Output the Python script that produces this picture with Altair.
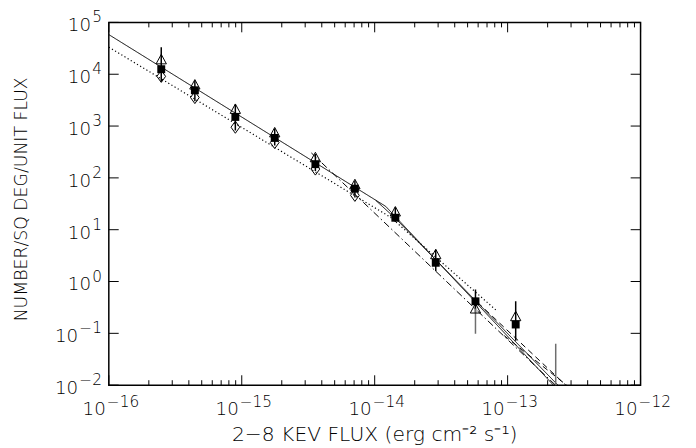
import altair as alt
import pandas as pd

# ---------------- data ----------------
flux = [2.48e-16, 4.44e-16, 8.95e-16, 1.77e-15, 3.58e-15, 7.10e-15,
        1.43e-14, 2.88e-14, 5.73e-14, 1.15e-13]
squares = [1.25e4, 4.9e3, 1.5e3, 590, 184, 62, 17, 2.3, 0.415, 0.148]
triangles = [1.9e4, 6.2e3, 2.1e3, 740, 245, 74, 22, 3.3, 0.295, 0.21]
diamond_flux = [2.48e-16, 4.44e-16, 8.95e-16, 1.77e-15, 3.58e-15, 7.10e-15]
diamonds = [9.1e3, 3.55e3, 950, 480, 148, 46]

# error bars
err_flux = [2.48e-16, 2.48e-16, 4.44e-16, 8.95e-16, 1.77e-15, 3.58e-15,
            7.10e-15, 1.43e-14, 2.88e-14, 5.73e-14, 5.73e-14, 1.15e-13, 2.30e-13]
err_lo = [1.3e4, 7.2e3, 3.0e3, 820, 420, 135, 42, 14, 1.57, 0.25, 0.098, 0.072, 0.005]
err_hi = [3.3e4, 1.2e4, 7.6e3, 2.6e3, 900, 290, 88, 27, 4.1, 0.70, 0.30, 0.417, 0.063]
err_col = ["black", "black", "black", "black", "black", "black",
           "black", "black", "black", "black", "#6e6e6e", "black", "#6e6e6e"]

# model curves
solid_a_x = [1e-16, 1.21e-14, 2.22e-13]
solid_a_y = [5.82e4, 28.2, 0.0099]
solid_b_x = [1.02e-14, 1.43e-14, 2.40e-13]
solid_b_y = [36.7, 16.6, 0.0099]
dotted_x = [1e-16, 1.315e-14, 8.36e-14]
dotted_y = [3.33e4, 17.4, 0.267]
dashdot_x = [3.34e-15, 2.30e-13]
dashdot_y = [303, 0.0099]
dashed1_x = [5.96e-14, 2.75e-13]
dashed1_y = [0.392, 0.0099]
dashed2_x = [9.42e-14, 2.79e-13]
dashed2_y = [0.0904, 0.0099]

x_major = [1e-16, 1e-15, 1e-14, 1e-13, 1e-12]
x_exp = ["−16", "−15", "−14", "−13", "−12"]
y_major_pos = [1e0, 1e1, 1e2, 1e3, 1e4, 1e5]
y_exp_pos = ["0", "1", "2", "3", "4", "5"]
y_major_neg = [1e-2, 1e-1]
y_exp_neg = ["−2", "−1"]
x_minor = [k * 10.0 ** e for e in range(-16, -12) for k in range(2, 10)]

x_title = "2−8 KEV FLUX (erg cm⁻² s⁻¹)"
y_title = "NUMBER/SQ DEG/UNIT FLUX"

# ---------------- chart ----------------
W, H = 538, 367
FONT = "DejaVu Sans"
FW = 300
xs = alt.Scale(type="log", domain=[1e-16, 1e-12], nice=False)
ys = alt.Scale(type="log", domain=[1e-2, 1e5], nice=False)


def X(f):
    return alt.X(f"{f}:Q", scale=xs, axis=None)


def Y(f):
    return alt.Y(f"{f}:Q", scale=ys, axis=None)


def curve(xv, yv, dash, width=1.0):
    df = pd.DataFrame({"f": xv, "n": yv, "o": range(len(xv))})
    m = alt.Chart(df).mark_line(color="black", strokeWidth=width, clip=True,
                                strokeDash=dash)
    return m.encode(x=X("f"), y=Y("n"), order="o:Q")


layers = [
    curve(solid_a_x, solid_a_y, [1, 0]),
    curve(solid_b_x, solid_b_y, [1, 0]),
    curve(dotted_x, dotted_y, [1.2, 2.5], 1.2),
    curve(dashdot_x, dashdot_y, [7, 3, 1.5, 3]),
    curve(dashed1_x, dashed1_y, [6, 4]),
    curve(dashed2_x, dashed2_y, [6, 4]),
]

err_df = pd.DataFrame({"f": err_flux, "lo": err_lo, "hi": err_hi, "c": err_col})
layers.append(alt.Chart(err_df).mark_rule(strokeWidth=1.5, clip=True).encode(
    x=X("f"), y=Y("lo"), y2="hi:Q", color=alt.Color("c:N", scale=None)))

tri_df = pd.DataFrame({"f": flux, "n": triangles})
layers.append(alt.Chart(tri_df).mark_point(
    shape="M0,-1L0.95,0.75L-0.95,0.75Z", size=120, filled=False,
    color="black", strokeWidth=1, opacity=1).encode(x=X("f"), y=Y("n")))

dia_df = pd.DataFrame({"f": diamond_flux, "n": diamonds})
layers.append(alt.Chart(dia_df).mark_point(
    shape="M0,-1L0.72,0L0,1L-0.72,0Z", size=150, filled=False,
    color="black", strokeWidth=1, opacity=1).encode(x=X("f"), y=Y("n")))

sq_df = pd.DataFrame({"f": flux, "n": squares})
layers.append(alt.Chart(sq_df).mark_point(
    shape="square", size=64, filled=True, color="black", opacity=1).encode(
    x=X("f"), y=Y("n")))

# inward ticks on all four sides
xmaj = pd.DataFrame({"v": x_major})
xmin = pd.DataFrame({"v": x_minor})
ymaj = pd.DataFrame({"v": y_major_pos + y_major_neg})
for df, L in ((xmaj, 10), (xmin, 5)):
    layers.append(alt.Chart(df).mark_rule(color="black", strokeWidth=1).encode(
        x=X("v"), y=alt.value(H), y2=alt.value(H - L)))
    layers.append(alt.Chart(df).mark_rule(color="black", strokeWidth=1).encode(
        x=X("v"), y=alt.value(0), y2=alt.value(L)))
layers.append(alt.Chart(ymaj).mark_rule(color="black", strokeWidth=1).encode(
    y=Y("v"), x=alt.value(0), x2=alt.value(10)))
layers.append(alt.Chart(ymaj).mark_rule(color="black", strokeWidth=1).encode(
    y=Y("v"), x=alt.value(W), x2=alt.value(W - 10)))

BASE, EXPS = 18.5, 15.5
# x tick labels
xl = pd.DataFrame({"v": x_major, "b": ["10"] * len(x_major), "e": x_exp})
layers.append(alt.Chart(xl).mark_text(
    align="right", baseline="alphabetic", dx=-3, fontSize=BASE, font=FONT,
    fontWeight=FW, color="black").encode(x=X("v"), y=alt.value(H + 30), text="b:N"))
layers.append(alt.Chart(xl).mark_text(
    align="left", baseline="alphabetic", dx=-2, fontSize=EXPS, font=FONT,
    fontWeight=FW, color="black").encode(x=X("v"), y=alt.value(H + 22), text="e:N"))

# y tick labels
for vals, exps, ew in ((y_major_pos, y_exp_pos, 10), (y_major_neg, y_exp_neg, 23)):
    d = pd.DataFrame({"v": vals, "b": ["10"] * len(vals), "e": exps})
    layers.append(alt.Chart(d).mark_text(
        align="right", baseline="middle", dy=3, fontSize=BASE, font=FONT,
        fontWeight=FW, color="black").encode(y=Y("v"), x=alt.value(-7 - ew - 1), text="b:N"))
    layers.append(alt.Chart(d).mark_text(
        align="right", baseline="middle", dy=-5, fontSize=EXPS, font=FONT,
        fontWeight=FW, color="black").encode(y=Y("v"), x=alt.value(-7), text="e:N"))

# axis titles
tdf = pd.DataFrame({"t": [x_title]})
layers.append(alt.Chart(tdf).mark_text(
    align="center", baseline="middle", fontSize=20.5, font=FONT, fontWeight=FW,
    color="black").encode(x=alt.value(W / 2), y=alt.value(H + 50), text="t:N"))
ydf = pd.DataFrame({"t": [y_title]})
layers.append(alt.Chart(ydf).mark_text(
    align="center", baseline="middle", fontSize=17.5, font=FONT, angle=270,
    fontWeight=FW, color="black").encode(x=alt.value(-88), y=alt.value(179), text="t:N"))

chart = alt.layer(*layers).properties(
    width=W, height=H,
    autosize=alt.AutoSizeParams(type="none"),
    padding={"left": 102, "top": 12, "right": 48, "bottom": 61},
).configure_view(stroke="black", strokeWidth=1.5)

chart.save("out.html", embed_options={"renderer": "svg", "actions": False})
